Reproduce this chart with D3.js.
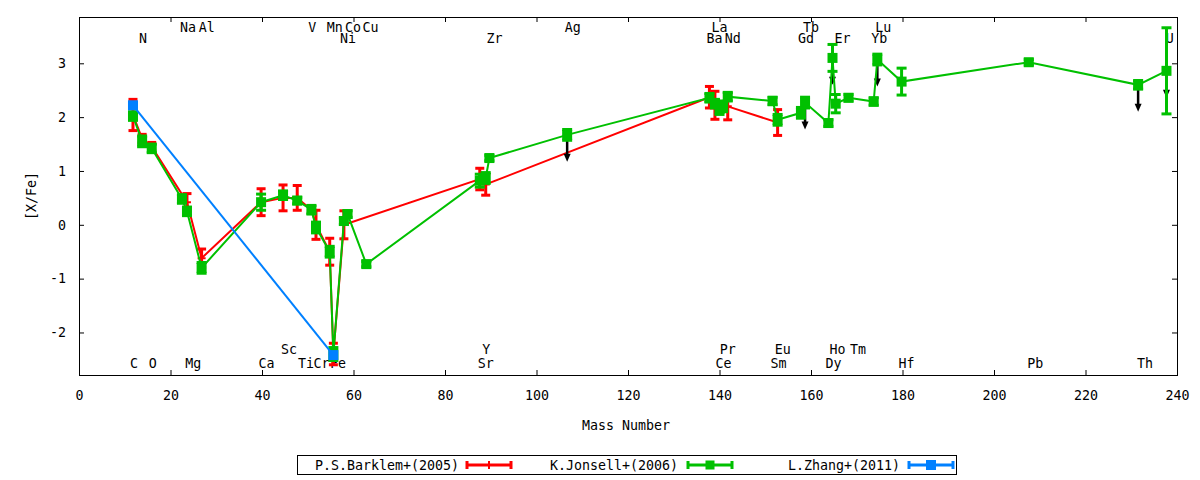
<!DOCTYPE html>
<html>
<head>
<meta charset="utf-8">
<script src="https://cdn.jsdelivr.net/npm/d3@7"></script>
<style>
  body { margin: 0; background: #fff; }
  svg text { font-family: "DejaVu Sans Mono", monospace; font-size: 13.3px; fill: #000; }
</style>
</head>
<body>
<svg id="chart" width="1200" height="480"></svg>
<script>
'use strict';

// element -> x position of its points (mass number)
const elemNames = ['C', 'N', 'O', 'Na', 'Mg', 'Al', 'Ca', 'Sc', 'Ti', 'V', 'Cr', 'Mn', 'Fe', 'Co', 'Ni', 'Cu',
    'Sr', 'Y', 'Zr', 'Ag', 'Ba', 'La', 'Ce', 'Pr', 'Nd', 'Sm', 'Eu', 'Gd', 'Tb', 'Dy', 'Ho', 'Er', 'Tm',
    'Yb', 'Lu', 'Hf', 'Pb', 'Th', 'U'];
const elemMass = [11.8, 13.8, 15.9, 22.5, 23.6, 26.8, 39.8, 44.6, 47.7, 50.8, 51.8, 54.8, 55.6, 57.9, 58.7, 62.8,
    87.6, 88.9, 89.7, 106.7, 137.8, 139.0, 140.0, 140.8, 141.8, 151.6, 152.7, 157.8, 158.7, 163.8, 164.7, 165.4, 168.2,
    173.7, 174.5, 179.8, 207.6, 231.5, 237.7];

// P.S.Barklem+(2005)
const barklemEl = ['C', 'N', 'O', 'Mg', 'Al', 'Ca', 'Sc', 'Ti', 'V', 'Cr', 'Mn', 'Fe', 'Co', 'Sr', 'Y', 'Ba', 'La', 'Nd', 'Eu'];
const barklemVal = [2.04, 1.60, 1.45, 0.42, -0.62, 0.42, 0.50, 0.50, 0.28, 0.00, -0.50, -2.40, 0.00, 0.85, 0.75, 2.37, 2.22, 2.20, 1.90];
const barklemErr = [0.29, 0.08, 0.08, 0.16, 0.17, 0.25, 0.24, 0.23, 0.06, 0.27, 0.25, 0.20, 0.26, 0.20, 0.20, 0.20, 0.26, 0.25, 0.24];

// K.Jonsell+(2006)
const jonsellEl = ['C', 'N', 'O', 'Na', 'Mg', 'Al', 'Ca', 'Sc', 'Ti', 'V', 'Cr', 'Mn', 'Fe', 'Co', 'Ni', 'Cu',
    'Sr', 'Y', 'Zr', 'Ag', 'Ba', 'La', 'Ce', 'Pr', 'Nd', 'Sm', 'Eu', 'Gd', 'Tb', 'Dy', 'Ho', 'Er', 'Tm',
    'Yb', 'Lu', 'Hf', 'Pb', 'Th', 'U'];
const jonsellVal = [2.02, 1.55, 1.42, 0.48, 0.25, -0.80, 0.42, 0.55, 0.45, 0.28, -0.05, -0.50, -2.40, 0.07, 0.20, -0.73,
    0.82, 0.87, 1.24, 1.67, 2.36, 2.25, 2.15, 2.20, 2.38, 2.30, 1.95, 2.08, 2.27, 1.89, 3.10, 2.25, 2.36,
    2.29, 3.07, 2.66, 3.02, 2.60, 2.86];
const jonsellErr = [0.08, 0.10, 0.08, 0.08, 0.08, 0.10, 0.15, 0.08, 0.06, 0.08, 0.10, 0.10, 0.12, 0.06, 0.06, 0.05,
    0.12, 0.10, 0.05, 0.10, 0.08, 0.08, 0.10, 0.10, 0.08, 0.07, 0.10, 0.10, 0.10, 0.06, 0.25, 0.17, 0.06,
    0.07, 0.10, 0.25, 0.05, 0.08, 0.80];

// L.Zhang+(2011)
const zhangEl = ['C', 'Fe'];
const zhangVal = [2.22, -2.42];
const zhangErr = [0.03, 0.03];

// upper limits (Jonsell points with a downward arrow)
const limitEl = ['Ag', 'Tb', 'Ho', 'Lu', 'Th', 'U'];
const limitLen = 0.5;

// element labels: name, x, row; rows 0,1 at the top, 2,3 at the bottom
const labelNames = ['Na', 'Al', 'V', 'Mn', 'Co', 'Cu', 'Ag', 'La', 'Tb', 'Lu',
    'N', 'Ni', 'Zr', 'Ba', 'Nd', 'Gd', 'Er', 'Yb', 'U',
    'Sc', 'Y', 'Pr', 'Eu', 'Ho', 'Tm',
    'C', 'O', 'Mg', 'Ca', 'Ti', 'Cr', 'Fe', 'Sr', 'Ce', 'Sm', 'Dy', 'Hf', 'Pb', 'Th'];
const labelX = [23.8, 27.9, 51.0, 55.9, 59.9, 63.7, 107.9, 140.0, 160.0, 175.8,
    14.0, 58.8, 90.8, 138.9, 142.9, 158.9, 166.9, 174.9, 238.4,
    45.9, 89.0, 141.8, 153.8, 165.8, 170.3,
    12.0, 16.1, 25.0, 41.0, 49.6, 53.0, 56.6, 88.9, 140.9, 152.9, 164.9, 180.9, 209.0, 233.0];
const labelRow = [0, 0, 0, 0, 0, 0, 0, 0, 0, 0,
    1, 1, 1, 1, 1, 1, 1, 1, 1,
    2, 2, 2, 2, 2, 2,
    3, 3, 3, 3, 3, 3, 3, 3, 3, 3, 3, 3, 3, 3];
const rowY = [3.66, 3.47, -2.31, -2.57];

const xTicks = d3.range(0, 241, 20);
const yTicks = [-2, -1, 0, 1, 2, 3];
const seriesNames = ['P.S.Barklem+(2005)', 'K.Jonsell+(2006)', 'L.Zhang+(2011)'];
const seriesColors = ['#ff0000', '#00c000', '#0080ff'];

(function() {
    const svg = d3.select('#chart');
    const left = 79, right = 1177, top = 17, bottom = 375;

    const x = d3.scaleLinear().domain([0, 240]).range([left, right]);
    const y = d3.scaleLinear().domain([-2.79, 3.86]).range([bottom, top]);
    const plain = d => String(d);

    const massOf = {};
    elemNames.forEach((e, i) => { massOf[e] = elemMass[i]; });

    function rows(els, vals, errs) {
        return els.map((e, i) => ({el: e, m: massOf[e], v: vals[i], e: errs[i]}));
    }
    const barklem = rows(barklemEl, barklemVal, barklemErr);
    const jonsell = rows(jonsellEl, jonsellVal, jonsellErr);
    const zhang = rows(zhangEl, zhangVal, zhangErr);

    // Axis (gnuplot style: ticks inside, mirrored)
    const gx = svg.append('g')
        .attr('transform', 'translate(0,' + bottom + ')')
        .call(d3.axisBottom(x).tickValues(xTicks).tickFormat(plain)
            .tickSize(-5).tickSizeOuter(0).tickPadding(16));
    svg.append('g')
        .attr('transform', 'translate(0,' + top + ')')
        .call(d3.axisTop(x).tickValues(xTicks).tickSize(-5).tickSizeOuter(0).tickFormat(''));
    svg.append('g')
        .attr('transform', 'translate(' + left + ',0)')
        .call(d3.axisLeft(y).tickValues(yTicks).tickFormat(plain)
            .tickSize(-5).tickSizeOuter(0).tickPadding(13));
    svg.append('g')
        .attr('transform', 'translate(' + right + ',0)')
        .call(d3.axisRight(y).tickValues(yTicks).tickSize(-5).tickSizeOuter(0).tickFormat(''));
    svg.selectAll('.domain').remove();
    svg.selectAll('.tick line').attr('stroke', '#000').attr('stroke-width', 1);
    svg.selectAll('.tick text').attr('font-family', null).attr('font-size', null);
    gx.selectAll('text').attr('dy', '0.71em');

    svg.append('rect')
        .attr('x', left + 0.5).attr('y', top + 0.5)
        .attr('width', right - left).attr('height', bottom - top)
        .attr('fill', 'none').attr('stroke', '#000').attr('stroke-width', 1);

    svg.append('text')
        .attr('x', (left + right) / 2 - 2).attr('y', 430)
        .attr('text-anchor', 'middle')
        .text('Mass Number');
    svg.append('text')
        .attr('transform', 'translate(36,' + ((top + bottom) / 2) + ') rotate(-90)')
        .attr('text-anchor', 'middle')
        .text('[X/Fe]');

    // element labels (behind the data)
    svg.append('g').selectAll('text')
        .data(labelNames)
        .enter()
        .append('text')
        .attr('x', (d, i) => x(labelX[i]))
        .attr('y', (d, i) => y(rowY[labelRow[i]]))
        .attr('dy', '0.35em')
        .attr('text-anchor', 'middle')
        .text(d => d);

    const line = d3.line().x(d => x(d.m)).y(d => y(d.v));

    function errBars(g, data, color, capW, width) {
        const bar = g.selectAll('.err')
            .data(data)
            .enter()
            .append('g')
            .attr('stroke', color)
            .attr('stroke-width', width);
        bar.append('line')
            .attr('x1', d => x(d.m)).attr('x2', d => x(d.m))
            .attr('y1', d => y(d.v - d.e)).attr('y2', d => y(d.v + d.e));
        bar.append('line')
            .attr('x1', d => x(d.m) - capW / 2).attr('x2', d => x(d.m) + capW / 2)
            .attr('y1', d => y(d.v - d.e)).attr('y2', d => y(d.v - d.e));
        bar.append('line')
            .attr('x1', d => x(d.m) - capW / 2).attr('x2', d => x(d.m) + capW / 2)
            .attr('y1', d => y(d.v + d.e)).attr('y2', d => y(d.v + d.e));
    }

    // Barklem
    const gR = svg.append('g');
    gR.append('path').datum(barklem)
        .attr('d', line).attr('fill', 'none')
        .attr('stroke', seriesColors[0]).attr('stroke-width', 2);
    errBars(gR, barklem, seriesColors[0], 9, 3);
    gR.selectAll('.pt').data(barklem).enter().append('path')
        .attr('d', d => 'M' + (x(d.m) - 4) + ',' + y(d.v) + 'h8M' + x(d.m) + ',' + (y(d.v) - 4) + 'v8')
        .attr('stroke', seriesColors[0]).attr('stroke-width', 2);

    // upper-limit arrows
    const jv = {};
    jonsell.forEach(d => { jv[d.el] = d; });
    const arr = svg.append('g');
    limitEl.forEach(e => {
        const d = jv[e];
        const x0 = x(d.m), y0 = y(d.v), y1 = y(d.v - limitLen);
        arr.append('line')
            .attr('x1', x0).attr('x2', x0).attr('y1', y0).attr('y2', y1 - 6)
            .attr('stroke', '#000').attr('stroke-width', 2.5);
        arr.append('path')
            .attr('d', 'M' + (x0 - 3.5) + ',' + (y1 - 8) + 'L' + (x0 + 3.5) + ',' + (y1 - 8) + 'L' + x0 + ',' + y1 + 'Z')
            .attr('fill', '#000');
    });

    // Jonsell
    const gG = svg.append('g');
    gG.append('path').datum(jonsell)
        .attr('d', line).attr('fill', 'none')
        .attr('stroke', seriesColors[1]).attr('stroke-width', 2);
    errBars(gG, jonsell, seriesColors[1], 10, 3);
    gG.selectAll('.pt').data(jonsell).enter().append('rect')
        .attr('x', d => x(d.m) - 5).attr('y', d => y(d.v) - 5)
        .attr('width', 10).attr('height', 10)
        .attr('fill', seriesColors[1]);

    // Zhang
    const gB = svg.append('g');
    gB.append('path').datum(zhang)
        .attr('d', line).attr('fill', 'none')
        .attr('stroke', seriesColors[2]).attr('stroke-width', 2);
    errBars(gB, zhang, seriesColors[2], 9, 3);
    gB.selectAll('.pt').data(zhang).enter().append('rect')
        .attr('x', d => x(d.m) - 5).attr('y', d => y(d.v) - 5)
        .attr('width', 10).attr('height', 10)
        .attr('fill', seriesColors[2]);

    // Legend
    const leg = svg.append('g');
    leg.append('rect')
        .attr('x', 297.5).attr('y', 455.5).attr('width', 659).attr('height', 19)
        .attr('fill', 'none').attr('stroke', '#000').attr('stroke-width', 1);
    const textEnd = [459, 678, 900];
    const sampleStart = [467, 688, 909];
    seriesNames.forEach((name, i) => {
        const c = seriesColors[i];
        const x0 = sampleStart[i], x1 = x0 + 44, yy = 465;
        leg.append('text')
            .attr('x', textEnd[i]).attr('y', yy).attr('dy', '0.35em')
            .attr('text-anchor', 'end')
            .text(name);
        leg.append('line').attr('x1', x0).attr('x2', x1).attr('y1', yy).attr('y2', yy)
            .attr('stroke', c).attr('stroke-width', 3);
        leg.append('line').attr('x1', x0).attr('x2', x0).attr('y1', yy - 4).attr('y2', yy + 4)
            .attr('stroke', c).attr('stroke-width', 3);
        leg.append('line').attr('x1', x1).attr('x2', x1).attr('y1', yy - 4).attr('y2', yy + 4)
            .attr('stroke', c).attr('stroke-width', 3);
        const xm = (x0 + x1) / 2;
        if (i === 0) {
            leg.append('line').attr('x1', xm).attr('x2', xm).attr('y1', yy - 4).attr('y2', yy + 4)
                .attr('stroke', c).attr('stroke-width', 2);
        } else {
            const s = i === 1 ? 9 : 10;
            leg.append('rect').attr('x', xm - s / 2).attr('y', yy - s / 2)
                .attr('width', s).attr('height', s).attr('fill', c);
        }
    });
}());
</script>
</body>
</html>
